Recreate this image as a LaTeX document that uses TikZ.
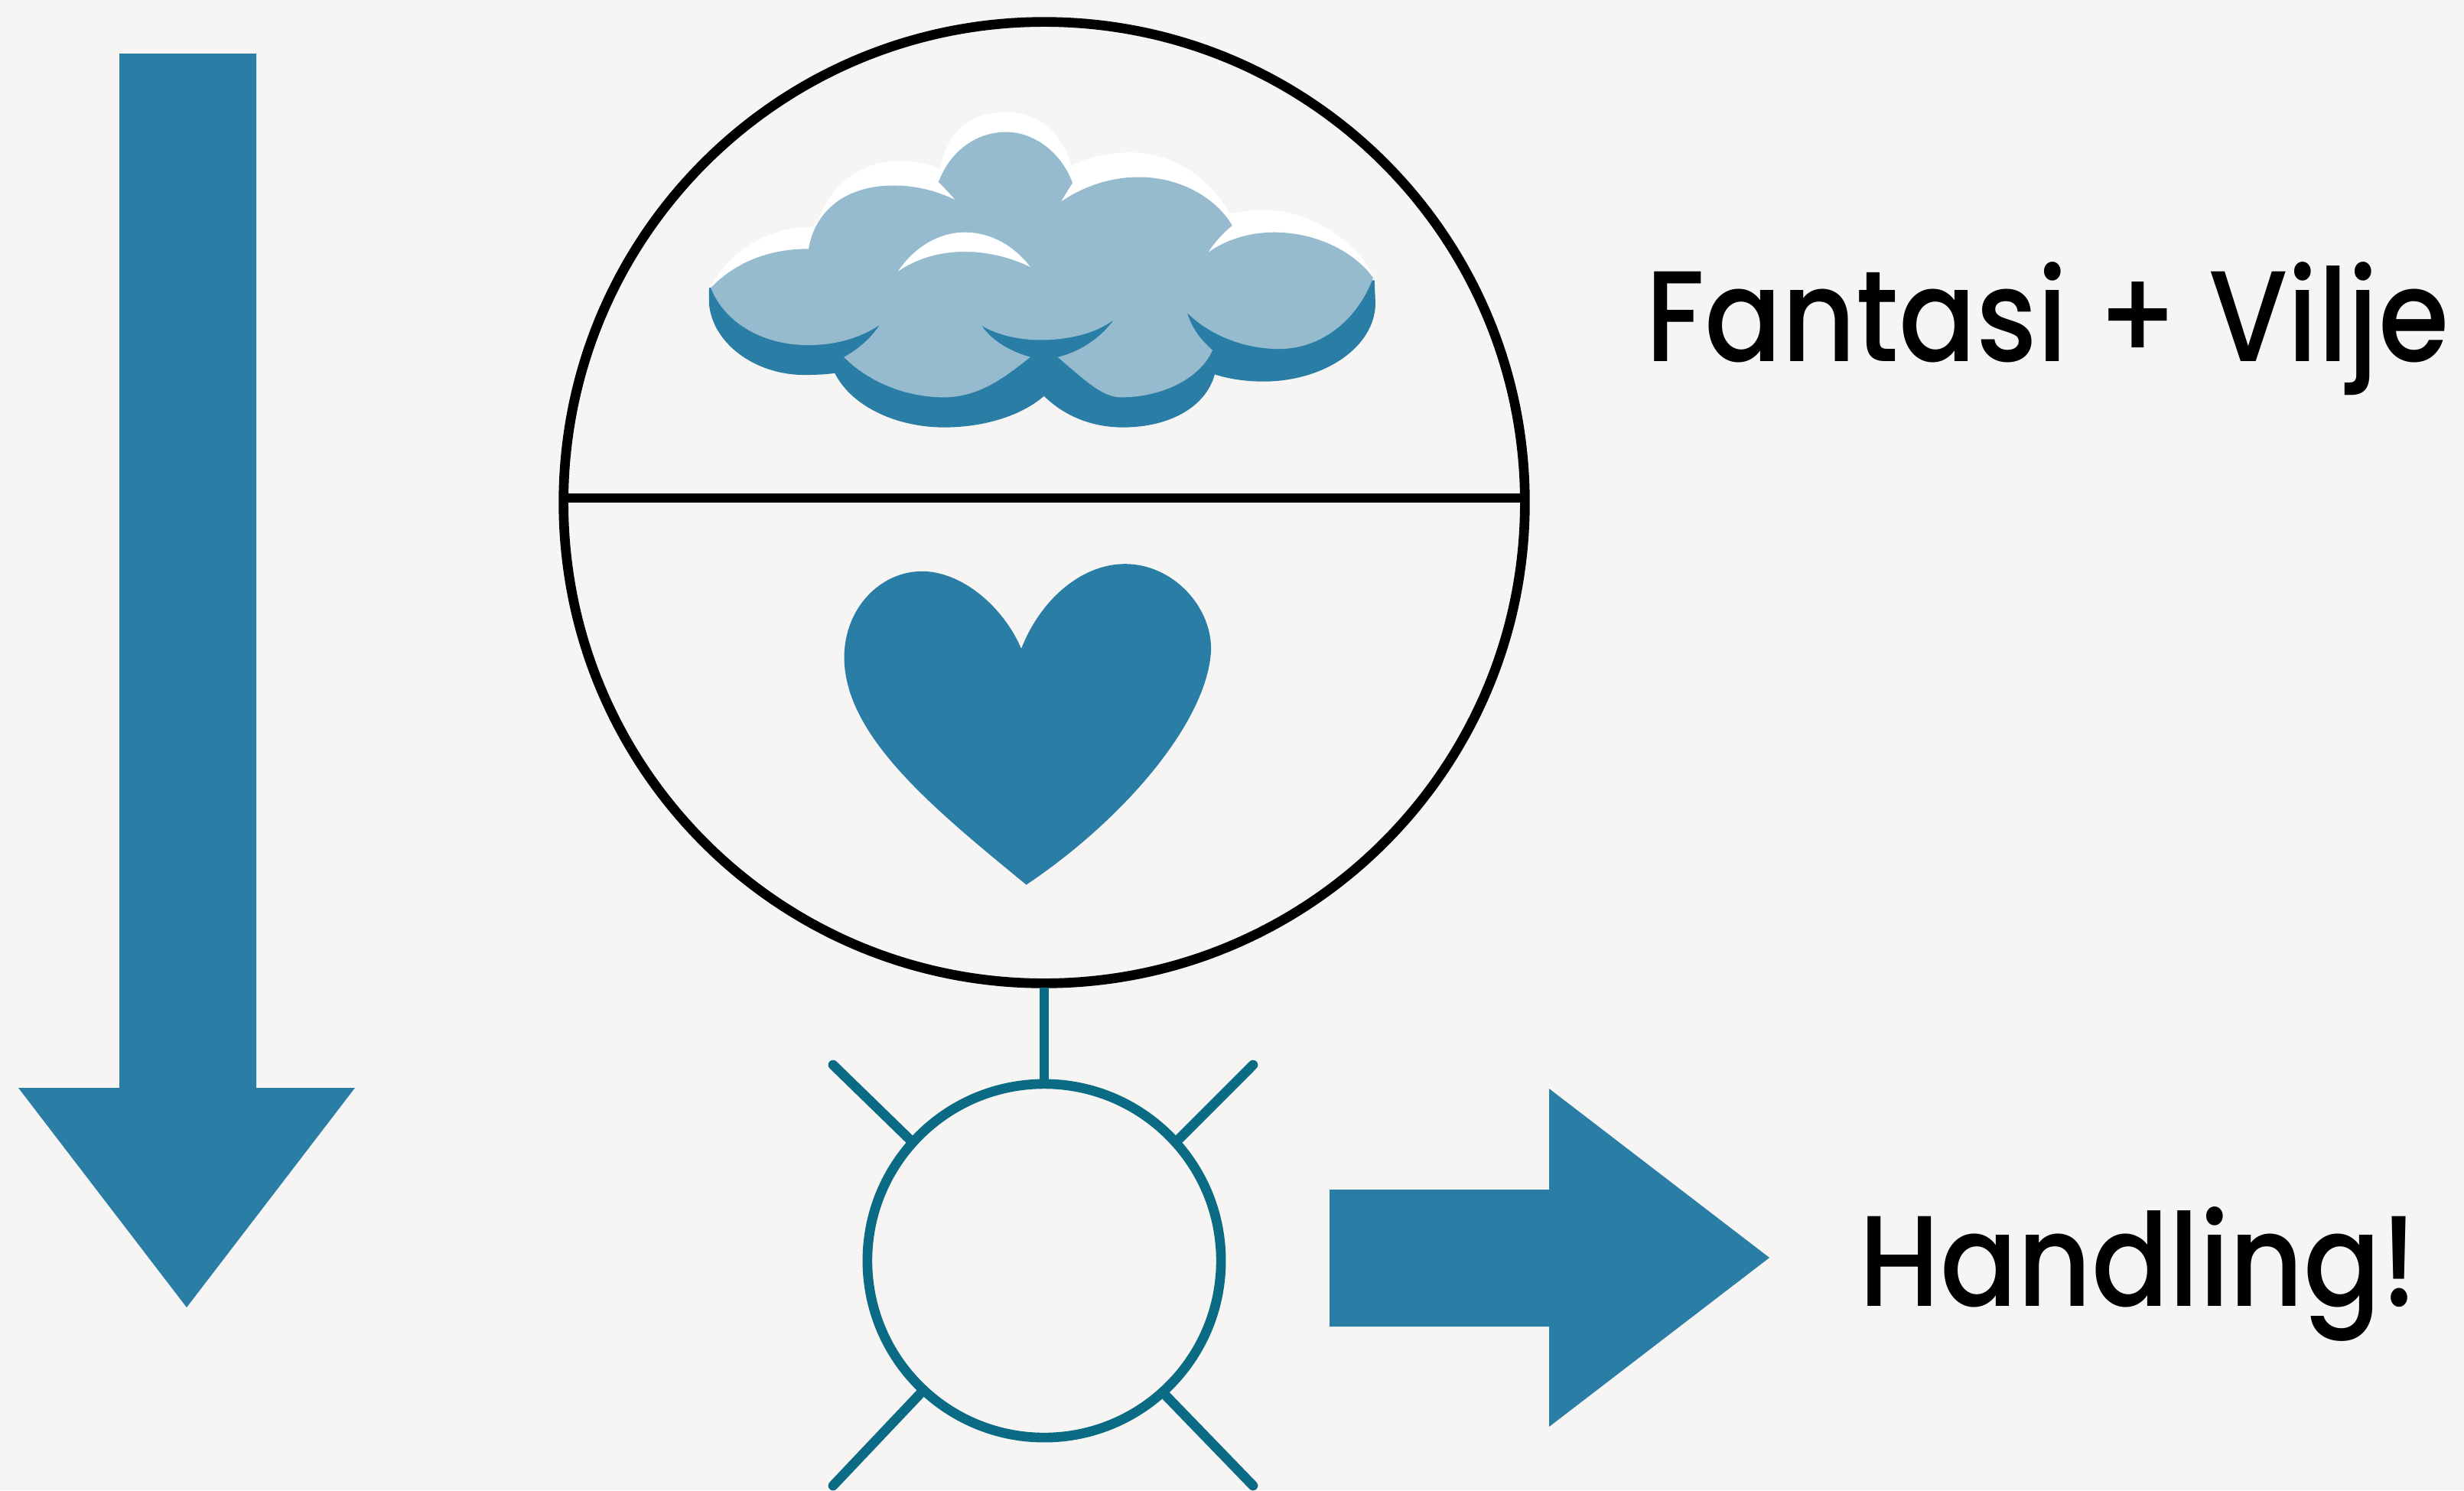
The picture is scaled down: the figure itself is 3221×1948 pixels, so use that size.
\documentclass[tikz,border=0pt]{standalone}
\usepackage{fontspec}
\setmainfont[UprightFont={* Medium},FakeStretch=0.885]{Poppins}
\usepackage{tikz}
\usetikzlibrary{calc}
\definecolor{paper}{HTML}{F6F5F3}
\definecolor{deep}{HTML}{2A7EA6}
\definecolor{pale}{HTML}{97BBCE}
\definecolor{teal2}{HTML}{0B6A84}
\tikzset{
  ring/.style    = {draw, circle, line width=3.6pt, outer sep=0pt, inner sep=0pt},
  ray/.style     = {draw=teal2, line width=3.6pt, line cap=round},
  solid/.style   = {fill=deep},
  label/.style   = {anchor=base west, inner sep=0pt, font=\fontsize{48}{58}\selectfont},
}
\begin{document}
\begin{tikzpicture}[x=0.01cm,y=-0.01cm]
  \fill[paper] (0,0) rectangle (3221,1948);
  \useasboundingbox (0,0) rectangle (3221,1948);
  % big arrows
  \fill[solid] (156,70) -- (335,70) -- (335,1422) -- (464,1422) -- (244,1709) -- (24,1422) -- (156,1422) -- cycle;
  \fill[solid] (1738,1555) -- (2025,1555) -- (2025,1423) -- (2313,1644) -- (2025,1865) -- (2025,1734) -- (1738,1734) -- cycle;
  % head and body
  \node[ring, black, minimum size=12.56cm] (mind) at (1365,657) {};
  \node[ring, teal2, minimum size=4.62cm] (sun) at (1365,1648) {};
  \draw[black, line width=3.6pt] ($(mind.west)+(0,-6)$) -- ($(mind.east)+(0,-6)$);
  \draw[teal2, line width=3.6pt] ($(mind.south)+(0,6)$) -- (sun.north);
  \foreach \a/\x/\y/\n in {138/1089/1392/a, 42/1638/1392/b, 227/1089/1942/c, 312/1638/1942/d} {
    \coordinate (end\n) at (\x,\y);
    \draw[ray] (sun.\a) -- (end\n);
  }
  % cloud
  \begin{scope}[shift={(880,120)},x=0.005995cm,y=-0.003333cm]
    \fill[white] (82,770) .. controls (115,640) and (200,530) .. (305,530) -- (315,510)
      .. controls (340,370) and (410,272) .. (490,272) .. controls (530,272) and (560,285) .. (582,305)
      .. controls (598,140) and (655,80) .. (725,80) .. controls (795,80) and (845,160) .. (868,288)
      .. controls (910,255) and (950,238) .. (995,238) .. controls (1090,238) and (1170,340) .. (1212,478)
      .. controls (1235,470) and (1260,465) .. (1290,465) .. controls (1390,465) and (1490,590) .. (1525,725)
      -- (1525,800) -- (82,800) -- cycle;
    \fill[solid] (78,770) -- (78,830) .. controls (85,990) and (180,1112) .. (285,1112)
      .. controls (310,1112) and (335,1110) .. (352,1105) .. controls (390,1240) and (490,1318) .. (590,1318)
      .. controls (680,1318) and (760,1270) .. (808,1195) .. controls (850,1270) and (910,1318) .. (980,1318)
      .. controls (1080,1318) and (1160,1240) .. (1180,1110) .. controls (1210,1128) and (1250,1138) .. (1285,1138)
      .. controls (1420,1138) and (1530,1000) .. (1530,830) -- (1528,740) -- cycle;
    \fill[pale] (82,770) .. controls (130,680) and (200,617) .. (295,617)
      .. controls (310,460) and (380,368) .. (480,368) .. controls (530,368) and (575,390) .. (615,425)
      .. controls (600,395) and (590,375) .. (578,355) .. controls (605,225) and (665,158) .. (725,158)
      .. controls (785,158) and (845,235) .. (870,358) .. controls (860,385) and (852,410) .. (845,432)
      .. controls (890,375) and (950,335) .. (1015,335) .. controls (1100,335) and (1180,410) .. (1218,525)
      .. controls (1195,560) and (1178,595) .. (1165,632) .. controls (1205,580) and (1255,552) .. (1310,552)
      .. controls (1395,552) and (1480,620) .. (1525,730) .. controls (1490,900) and (1410,1010) .. (1320,1010)
      .. controls (1240,1010) and (1165,950) .. (1120,868) .. controls (1130,930) and (1150,975) .. (1175,1015)
      .. controls (1150,1120) and (1070,1200) .. (975,1200) .. controls (935,1200) and (895,1130) .. (838,1042)
      .. controls (890,1020) and (935,960) .. (960,895) .. controls (925,945) and (865,975) .. (800,975)
      .. controls (755,975) and (705,955) .. (672,918) .. controls (695,980) and (735,1020) .. (778,1042)
      .. controls (730,1110) and (670,1200) .. (590,1200) .. controls (500,1200) and (420,1130) .. (372,1042)
      .. controls (405,1010) and (435,960) .. (450,915) .. controls (410,965) and (355,995) .. (295,995)
      .. controls (190,995) and (110,900) .. (82,770) -- cycle;
    \fill[white] (490,705) .. controls (525,610) and (580,552) .. (635,552) .. controls (695,552) and (745,610) .. (778,688)
      .. controls (735,650) and (685,628) .. (635,628) .. controls (580,628) and (530,655) .. (490,705) -- cycle;
  \end{scope}
  % heart
  \begin{scope}[shift={(1060,620)},x=0.003635cm,y=-0.00357cm]
    \fill[solid] (757,638) .. controls (830,450) and (980,328) .. (1130,328)
      .. controls (1300,328) and (1440,480) .. (1440,640) .. controls (1430,900) and (1130,1260) .. (775,1502)
      .. controls (450,1230) and (120,960) .. (120,670) .. controls (120,490) and (250,355) .. (400,355)
      .. controls (540,355) and (690,480) .. (757,638) -- cycle;
  \end{scope}
  \node[label] (dream) at (2151,472) {Fantasi + Vilje};
  \node[label] (deed) at (2430,1707) {Handling!};
\end{tikzpicture}
\end{document}
